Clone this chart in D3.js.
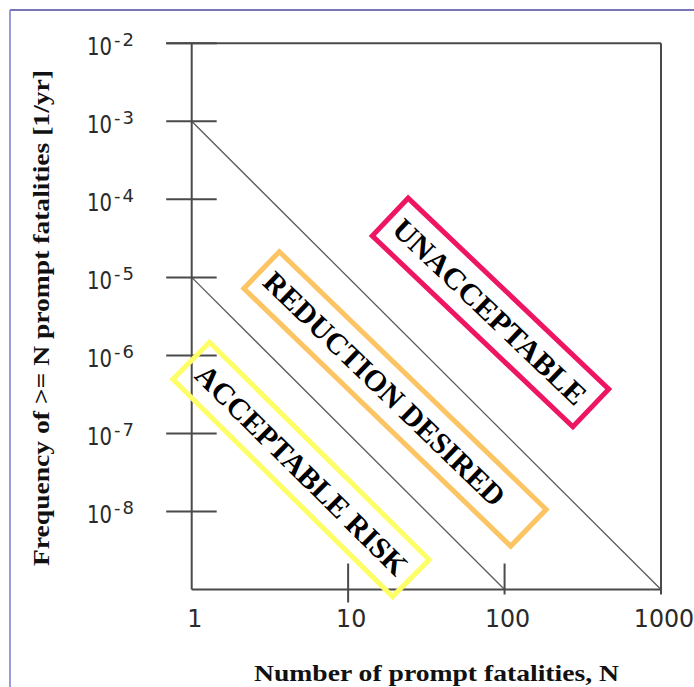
<!DOCTYPE html>
<html><head><meta charset="utf-8">
<script src="https://cdn.jsdelivr.net/npm/d3@7"></script>
<style>html,body{margin:0;padding:0;background:#fff;}svg{display:block;}</style>
</head><body>
<script>
// ---- data ----
const xTickValues = [1, 10, 100, 1000];
const xTickLabels = ["1", "10", "100", "1000"];
const yTickExponents = [-2, -3, -4, -5, -6, -7, -8];
const upperLineN = [1, 1000];
const upperLineF = [1e-3, 1e-9];
const lowerLineN = [1, 100];
const lowerLineF = [1e-5, 1e-9];
const regionNames = ["UNACCEPTABLE", "REDUCTION DESIRED", "ACCEPTABLE RISK"];
const regionN = [81.3, 19.94, 5.0];
const regionF = [Math.pow(10, -5.45), Math.pow(10, -6.558), Math.pow(10, -7.462)];
const regionColors = ["#ee1663", "#fcc463", "#fefe66"];
const xTitle = "Number of prompt fatalities, N";
const yTitle = "Frequency of >= N prompt fatalities [1/yr]";

// ---- layout ----
const W = 694, H = 687;
const plot = {left: 191.7, right: 661, top: 43.3, bottom: 589.5};
const boxLength = [277, 371, 309];
const boxWidth = [52, 51, 52];
const boxAngle = [43.6, 44, 44.7];
const textLength = [255, 323, 285];
const textShift = [-1, -14.7, 0.8];

const svg = d3.select("body").append("svg").attr("width", W).attr("height", H);

// outer frame
svg.append("line").attr("x1", 10).attr("x2", W).attr("y1", 10).attr("y2", 10)
  .attr("stroke", "#4a4aa0").attr("stroke-width", 1.5);
svg.append("line").attr("x1", 10).attr("x2", 10).attr("y1", 10).attr("y2", H)
  .attr("stroke", "#7a7acc").attr("stroke-width", 1.5);

const x = d3.scaleLog().domain([1, 1000]).range([plot.left, plot.right]);
const y = d3.scaleLog().domain([1e-9, 1e-2]).range([plot.bottom, plot.top]);

const axisColor = "#4a4a4a";

// criterion lines
const line = d3.line().x(d => x(d[0])).y(d => y(d[1]));
[[upperLineN, upperLineF], [lowerLineN, lowerLineF]].forEach(([ns, fs]) => {
  svg.append("path").attr("d", line(ns.map((n, i) => [n, fs[i]])))
    .attr("fill", "none").attr("stroke", "#5a5a5a").attr("stroke-width", 1.3);
});

// plot frame
svg.append("line").attr("x1", plot.left - 25.5).attr("x2", plot.right).attr("y1", plot.top).attr("y2", plot.top)
  .attr("stroke", axisColor).attr("stroke-width", 2);
svg.append("line").attr("x1", plot.right).attr("x2", plot.right).attr("y1", plot.top).attr("y2", plot.bottom)
  .attr("stroke", axisColor).attr("stroke-width", 2);
svg.append("line").attr("x1", plot.left).attr("x2", plot.left).attr("y1", plot.top).attr("y2", plot.bottom)
  .attr("stroke", axisColor).attr("stroke-width", 2);
svg.append("line").attr("x1", plot.left).attr("x2", plot.right).attr("y1", plot.bottom).attr("y2", plot.bottom)
  .attr("stroke", axisColor).attr("stroke-width", 2);

// y ticks
yTickExponents.forEach(e => {
  const yy = y(Math.pow(10, e));
  svg.append("line").attr("x1", plot.left - 25.5).attr("x2", plot.left + 25).attr("y1", yy).attr("y2", yy)
    .attr("stroke", axisColor).attr("stroke-width", 2);
  svg.append("text")
    .attr("transform", `translate(112,${yy + 12}) scale(0.82,1)`)
    .attr("text-anchor", "end")
    .attr("font-family", "DejaVu Sans").attr("font-size", 24).attr("fill", "#2a2a2a")
    .text("10");
  svg.append("text")
    .attr("x", 114).attr("y", yy + 3)
    .attr("font-family", "DejaVu Sans").attr("font-size", 18).attr("fill", "#2a2a2a")
    .attr("letter-spacing", 2)
    .text("-" + Math.abs(e));
});

// x ticks
xTickValues.forEach((v, i) => {
  const xx = x(v);
  if (i > 0) {
    svg.append("line").attr("x1", xx).attr("x2", xx).attr("y1", plot.bottom - 26).attr("y2", plot.bottom + (i === 1 ? 13 : 5))
      .attr("stroke", axisColor).attr("stroke-width", 2);
  }
  svg.append("text")
    .attr("transform", `translate(${xx + 3},627) scale(0.95,1)`)
    .attr("text-anchor", "middle")
    .attr("font-family", "DejaVu Sans").attr("font-size", 25).attr("fill", "#2a2a2a")
    .text(xTickLabels[i]);
});

// region boxes
regionNames.forEach((name, i) => {
  const g = svg.append("g")
    .attr("transform", `translate(${x(regionN[i])},${y(regionF[i])}) rotate(${boxAngle[i]})`);
  g.append("rect")
    .attr("x", -boxLength[i] / 2).attr("y", -boxWidth[i] / 2)
    .attr("width", boxLength[i]).attr("height", boxWidth[i])
    .attr("fill", "none").attr("stroke", regionColors[i]).attr("stroke-width", 5);
  g.append("text")
    .attr("x", textShift[i]).attr("y", 0).attr("dy", "0.34em")
    .attr("text-anchor", "middle")
    .attr("font-family", "Liberation Serif").attr("font-weight", "bold").attr("font-size", 30)
    .attr("textLength", textLength[i]).attr("lengthAdjust", "spacingAndGlyphs")
    .attr("fill", "#000")
    .text(name);
});

// axis titles
svg.append("text")
  .attr("x", 436.5).attr("y", 681)
  .attr("text-anchor", "middle")
  .attr("font-family", "Liberation Serif").attr("font-weight", "bold").attr("font-size", 24)
  .attr("textLength", 365).attr("lengthAdjust", "spacingAndGlyphs")
  .attr("fill", "#111")
  .text(xTitle);
svg.append("text")
  .attr("transform", "translate(49,318) rotate(-90)")
  .attr("text-anchor", "middle")
  .attr("font-family", "Liberation Serif").attr("font-weight", "bold").attr("font-size", 24)
  .attr("textLength", 496).attr("lengthAdjust", "spacingAndGlyphs")
  .attr("fill", "#111")
  .text(yTitle);
</script>
</body></html>
